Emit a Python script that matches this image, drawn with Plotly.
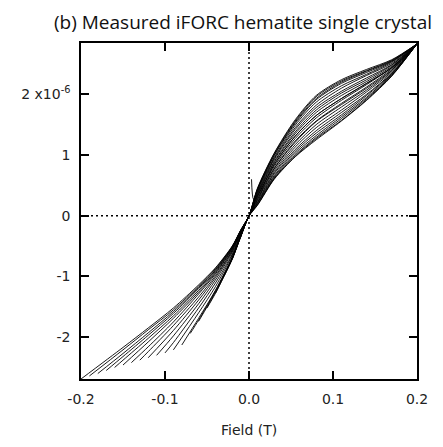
import plotly.graph_objects as go

# Reversal field (T) and moment at reversal (x1e-6) for each first-order reversal curve
reversal_field = [-0.20, -0.19, -0.18, -0.17, -0.16, -0.15, -0.14, -0.13, -0.12, -0.11,
                  -0.10, -0.09, -0.08, -0.07, -0.06, -0.05, -0.04, -0.03, -0.02, -0.01, 0.00]
reversal_moment = [-2.69, -2.64, -2.60, -2.55, -2.50, -2.46, -2.42, -2.38, -2.34, -2.30,
                   -2.26, -2.21, -2.13, -1.94, -1.74, -1.52, -1.28, -1.00, -0.72, -0.36, 0.00]

# Negative-field part of each curve, sampled on the tail of this field grid
neg_field = [-0.15, -0.12, -0.09, -0.06, -0.04, -0.02, -0.01, 0.0]
neg_moment = [
    [-2.17, -1.85, -1.52, -1.14, -0.86, -0.50, -0.24, 0.0],
    [-2.21, -1.88, -1.55, -1.16, -0.87, -0.51, -0.24, 0.0],
    [-2.27, -1.93, -1.58, -1.18, -0.89, -0.51, -0.25, 0.0],
    [-2.32, -1.97, -1.61, -1.20, -0.90, -0.52, -0.25, 0.0],
    [-2.38, -2.02, -1.65, -1.23, -0.92, -0.53, -0.25, 0.0],
    [-2.08, -1.69, -1.26, -0.94, -0.54, -0.26, 0.0],
    [-2.16, -1.75, -1.29, -0.96, -0.55, -0.27, 0.0],
    [-2.24, -1.81, -1.34, -0.99, -0.57, -0.27, 0.0],
    [-1.89, -1.39, -1.02, -0.58, -0.28, 0.0],
    [-1.98, -1.45, -1.06, -0.60, -0.29, 0.0],
    [-2.09, -1.52, -1.11, -0.63, -0.30, 0.0],
    [-1.60, -1.17, -0.65, -0.32, 0.0],
    [-1.69, -1.23, -0.68, -0.33, 0.0],
    [-1.72, -1.24, -0.69, -0.34, 0.0],
    [-1.26, -0.70, -0.34, 0.0],
    [-1.28, -0.71, -0.34, 0.0],
    [-0.71, -0.35, 0.0],
    [-0.72, -0.35, 0.0],
    [-0.35, 0.0],
    [0.0],
    [],
]

# Positive-field part of each curve
pos_field = [0.01, 0.03, 0.055, 0.08, 0.11, 0.14, 0.17, 0.20]
pos_moment = [
    [0.45, 1.03, 1.58, 1.98, 2.24, 2.41, 2.57, 2.83],
    [0.44, 1.02, 1.56, 1.96, 2.22, 2.39, 2.56, 2.83],
    [0.43, 1.00, 1.54, 1.93, 2.20, 2.38, 2.55, 2.83],
    [0.42, 0.99, 1.52, 1.91, 2.18, 2.36, 2.54, 2.83],
    [0.41, 0.96, 1.49, 1.87, 2.14, 2.33, 2.53, 2.83],
    [0.39, 0.94, 1.45, 1.82, 2.10, 2.31, 2.51, 2.83],
    [0.37, 0.92, 1.42, 1.78, 2.05, 2.27, 2.49, 2.83],
    [0.36, 0.89, 1.38, 1.74, 2.02, 2.24, 2.48, 2.83],
    [0.34, 0.87, 1.35, 1.70, 1.98, 2.21, 2.46, 2.83],
    [0.32, 0.84, 1.31, 1.65, 1.93, 2.18, 2.44, 2.83],
    [0.31, 0.81, 1.27, 1.61, 1.90, 2.16, 2.44, 2.83],
    [0.29, 0.78, 1.23, 1.56, 1.85, 2.12, 2.42, 2.83],
    [0.27, 0.77, 1.21, 1.55, 1.83, 2.10, 2.40, 2.83],
    [0.26, 0.74, 1.17, 1.50, 1.79, 2.07, 2.39, 2.83],
    [0.24, 0.71, 1.13, 1.45, 1.74, 2.04, 2.37, 2.83],
    [0.22, 0.69, 1.09, 1.40, 1.70, 2.00, 2.35, 2.83],
    [0.21, 0.66, 1.06, 1.36, 1.66, 1.98, 2.34, 2.83],
    [0.20, 0.64, 1.03, 1.32, 1.63, 1.95, 2.33, 2.83],
    [0.18, 0.62, 1.00, 1.29, 1.60, 1.93, 2.31, 2.83],
    [0.18, 0.61, 0.98, 1.27, 1.57, 1.91, 2.31, 2.83],
    [0.17, 0.60, 0.97, 1.25, 1.56, 1.90, 2.30, 2.83],
]

# Short curve reversed just above zero field (spike near the origin)
spike_field = [0.003, 0.0055, 0.01, 0.03, 0.055, 0.08, 0.11, 0.14, 0.17, 0.20]
spike_moment = [0.60, 0.27, 0.33, 0.84, 1.31, 1.65, 1.93, 2.18, 2.44, 2.83]

x_ticks = [-0.2, -0.1, 0.0, 0.1, 0.2]
x_tick_text = ["-0.2", "-0.1", "0.0", "0.1", "0.2"]
y_ticks = [-2, -1, 0, 1, 2]
y_tick_text = ["-2", "-1", "0", "1", "2 x10<sup>-6</sup>"]

fig = go.Figure()

line_style = dict(color="black", width=0.9, shape="spline", smoothing=0.8)
for hr, mr, tail, head in zip(reversal_field, reversal_moment, neg_moment, pos_moment):
    xs = [hr] + neg_field[len(neg_field) - len(tail):] + pos_field
    ys = [mr] + tail + head
    fig.add_trace(go.Scatter(x=xs, y=ys, mode="lines", line=line_style,
                             hoverinfo="skip", showlegend=False))

fig.add_trace(go.Scatter(x=spike_field, y=spike_moment, mode="lines", line=line_style,
                         hoverinfo="skip", showlegend=False))

# Dotted zero lines
dot = dict(color="black", width=1.5, dash="2px,3px")
fig.add_shape(type="line", xref="x", yref="paper", x0=0, x1=0, y0=0, y1=1,
              line=dot, layer="below")
fig.add_shape(type="line", xref="paper", yref="y", x0=0, x1=1, y0=0, y1=0,
              line=dot, layer="below")

axis_common = dict(showgrid=False, zeroline=False, showline=True, linecolor="black",
                   linewidth=1.5, mirror="ticks", ticks="inside", ticklen=8,
                   tickwidth=1.5, tickcolor="black",
                   tickfont=dict(family="DejaVu Sans", size=14, color="#222"))

fig.update_xaxes(range=[-0.2, 0.2], tickvals=x_ticks, ticktext=x_tick_text,
                 ticklabelstandoff=6, **axis_common)
fig.update_yaxes(range=[-2.69, 2.845], tickvals=y_ticks, ticktext=y_tick_text,
                 ticklabelstandoff=6, **axis_common)

fig.add_annotation(text="(b) Measured iFORC hematite single crystal",
                   xref="paper", yref="paper", x=0.482, y=1, yshift=21,
                   xanchor="center", yanchor="middle", showarrow=False,
                   font=dict(family="Open Sans", size=19, color="#111"))
fig.add_annotation(text="Field (T)", xref="paper", yref="paper", x=0.5, y=0,
                   yshift=-51, xanchor="center", yanchor="middle", showarrow=False,
                   font=dict(family="DejaVu Sans", size=14, color="#222"))

fig.update_layout(width=443, height=447, margin=dict(l=81, r=26, t=43, b=68),
                  paper_bgcolor="white", plot_bgcolor="white")

fig.write_html("out.html")
